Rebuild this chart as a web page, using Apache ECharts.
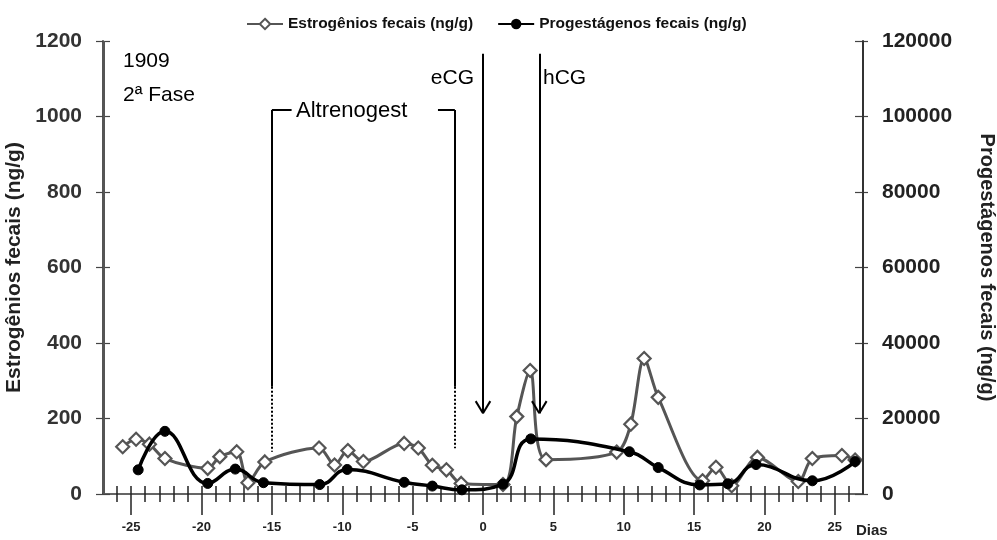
<!DOCTYPE html>
<html><head><meta charset="utf-8">
<script src="https://cdn.jsdelivr.net/npm/echarts@6/dist/echarts.min.js"></script>
<style>html,body{margin:0;padding:0;background:#fff}#c{width:997px;height:540px}</style>
</head><body><div id="c"></div>
<script>
// Estrogênios fecais (ng/g) — left axis
const estDays   = [-25.6,-24.65,-23.7,-22.6,-19.56,-18.7,-17.5,-16.7,-15.5,-11.65,-10.55,-9.6,-8.5,-5.6,-4.6,-3.6,-2.6,-1.55,1.42,2.4,3.35,4.48,9.5,10.5,11.45,12.45,15.6,16.55,17.67,19.5,22.4,23.4,25.5,26.44];
const estValues = [125,145,132,94,68,99,112,30,85,122,77,115,86,134,122,76,64,28,25,205,327,91,111,185,359,256,35,71,22,97,33,94,102,90];
// Progestágenos fecais (ng/g) — right axis
const progDays   = [-24.5,-22.6,-19.56,-17.6,-15.6,-11.6,-9.65,-5.6,-3.6,-1.5,1.42,3.4,10.4,12.45,15.4,17.4,19.4,23.4,26.44];
const progValues = [6400,16600,2800,6600,3000,2500,6500,3100,2100,1100,2600,14600,11200,7000,2400,2700,7800,3500,8600];
const xTickLabels = [-25,-20,-15,-10,-5,0,5,10,15,20,25];
const minorTicks = [];
for (let d = -26; d <= 26; d++) minorTicks.push(d);
const X_MIN = -27, X_MAX = 27, Y_MAX = 1200;

const FONT = "'Liberation Sans', Arial, sans-serif";
const chart = echarts.init(document.getElementById('c'));

const est = estDays.map((d, i) => [d, estValues[i]]);
const prog = progDays.map((d, i) => [d, progValues[i]]);

const solid = {type: 'solid', color: '#000', width: 2};
const dotted = {type: [2, 2], color: '#000', width: 2};
function seg(a, b, ls) { return [{coord: a, lineStyle: ls}, {coord: b}]; }

const xBase = {type: 'value', min: X_MIN, max: X_MAX, gridIndex: 0, position: 'bottom',
  splitLine: {show: false}};

const texts = [
  {type: 'text', x: 123, y: 61, style: {text: '1909', font: '21px ' + FONT, fill: '#000', verticalAlign: 'middle'}},
  {type: 'text', x: 123, y: 95, style: {text: '2ª Fase', font: '21px ' + FONT, fill: '#000', verticalAlign: 'middle'}},
  {type: 'text', x: 296, y: 111, style: {text: 'Altrenogest', font: '22px ' + FONT, fill: '#000', verticalAlign: 'middle'}},
  {type: 'text', x: 474, y: 78, style: {text: 'eCG', font: '21px ' + FONT, fill: '#000', verticalAlign: 'middle', align: 'right'}},
  {type: 'text', x: 543, y: 78, style: {text: 'hCG', font: '21px ' + FONT, fill: '#000', verticalAlign: 'middle'}},
  {type: 'text', x: 856, y: 531, style: {text: 'Dias', font: 'bold 15px ' + FONT, fill: '#222', verticalAlign: 'middle'}}
];

chart.setOption({
  animation: false,
  backgroundColor: '#fff',
  textStyle: {fontFamily: FONT},
  grid: {left: 103, right: 134, top: 41, bottom: 46, containLabel: false, outerBoundsMode: 'none'},
  legend: {
    left: 241, top: 11, itemWidth: 36, itemHeight: 13, itemGap: 24,
    textStyle: {fontFamily: FONT, fontSize: 15.5, fontWeight: 'bold', color: '#111'},
    data: ['Estrogênios fecais (ng/g)', 'Progestágenos fecais (ng/g)']
  },
  xAxis: [
    Object.assign({}, xBase, {
      axisLine: {onZero: false, lineStyle: {color: '#333', width: 1.5}},
      axisTick: {show: true, inside: false, length: 8, customValues: minorTicks, lineStyle: {color: '#222', width: 1.5}},
      axisLabel: {show: true, customValues: xTickLabels, margin: 27, fontSize: 13, fontWeight: 'bold', color: '#222', fontFamily: FONT}
    }),
    Object.assign({}, xBase, {
      axisLine: {show: false, onZero: false},
      axisTick: {show: true, inside: true, length: 8, customValues: minorTicks, lineStyle: {color: '#222', width: 1.5}},
      axisLabel: {show: false}
    }),
    Object.assign({}, xBase, {
      axisLine: {show: false, onZero: false},
      axisTick: {show: true, inside: false, length: 21, customValues: xTickLabels, lineStyle: {color: '#222', width: 1.5}},
      axisLabel: {show: false}
    })
  ],
  yAxis: [
    {type: 'value', min: 0, max: Y_MAX, interval: 200, position: 'left',
      name: 'Estrogênios fecais (ng/g)', nameLocation: 'middle', nameGap: 70, nameRotate: 90,
      nameTextStyle: {fontSize: 21, fontWeight: 'bold', color: '#222', fontFamily: FONT},
      axisLine: {show: true, onZero: false, lineStyle: {color: '#555', width: 2}},
      axisTick: {show: true, inside: false, length: 7, lineStyle: {color: '#444', width: 1.2}},
      axisLabel: {margin: 21, fontSize: 21, fontWeight: 'bold', color: '#333', fontFamily: FONT, formatter: v => String(v)},
      splitLine: {show: false}},
    {type: 'value', min: 0, max: 120000, interval: 20000, position: 'right',
      name: 'Progestágenos fecais (ng/g)', nameLocation: 'middle', nameGap: 114, nameRotate: -90,
      nameTextStyle: {fontSize: 20, fontWeight: 'bold', color: '#222', fontFamily: FONT},
      axisLine: {show: true, onZero: false, lineStyle: {color: '#333', width: 2}},
      axisTick: {show: true, inside: false, length: 5, lineStyle: {color: '#444', width: 1.2}},
      axisLabel: {margin: 19, fontSize: 21, fontWeight: 'bold', color: '#222', fontFamily: FONT, formatter: v => String(v)},
      splitLine: {show: false}},
    {type: 'value', min: 0, max: Y_MAX, interval: 200, position: 'left',
      axisLine: {show: false, onZero: false}, axisLabel: {show: false}, splitLine: {show: false},
      axisTick: {show: true, inside: true, length: 7, lineStyle: {color: '#444', width: 1.2}}},
    {type: 'value', min: 0, max: 120000, interval: 20000, position: 'right',
      axisLine: {show: false, onZero: false}, axisLabel: {show: false}, splitLine: {show: false},
      axisTick: {show: true, inside: true, length: 8, lineStyle: {color: '#444', width: 1.2}}}
  ],
  series: [
    {
      name: 'Estrogênios fecais (ng/g)', type: 'line', xAxisIndex: 0, yAxisIndex: 0,
      data: est, smooth: 0.3, symbol: 'diamond', symbolSize: 13, z: 3,
      lineStyle: {color: '#555', width: 3},
      itemStyle: {color: '#fff', borderColor: '#555', borderWidth: 2.2},
      markLine: {
        silent: true, symbol: 'none', label: {show: false},
        data: [
          seg([X_MIN + 0.04, 0], [X_MIN + 0.04, Y_MAX], {type: 'solid', color: '#555', width: 2}),
          seg([X_MAX - 0.04, 0], [X_MAX - 0.04, Y_MAX], {type: 'solid', color: '#333', width: 2}),
          seg([-15, 1017], [-15, 284], solid),
          seg([-15, 284], [-15, 112], dotted),
          seg([-15, 1017], [-13.6, 1017], solid),
          seg([-3.2, 1017], [-2, 1017], solid),
          seg([-2, 1017], [-2, 284], solid),
          seg([-2, 284], [-2, 121], dotted),
          seg([0, 1166], [0, 214], solid),
          seg([0, 214], [-0.52, 246], solid),
          seg([0, 214], [0.52, 246], solid),
          seg([4, 1166], [4, 214], solid),
          seg([4, 214], [3.48, 246], solid),
          seg([4, 214], [4.52, 246], solid)
        ]
      }
    },
    {
      name: 'Progestágenos fecais (ng/g)', type: 'line', xAxisIndex: 0, yAxisIndex: 1,
      data: prog, smooth: 0.45, symbol: 'circle', symbolSize: 10, z: 4,
      lineStyle: {color: '#000', width: 3.5},
      itemStyle: {color: '#000', borderColor: '#000'}
    }
  ],
  graphic: texts
});
</script>
</body></html>
